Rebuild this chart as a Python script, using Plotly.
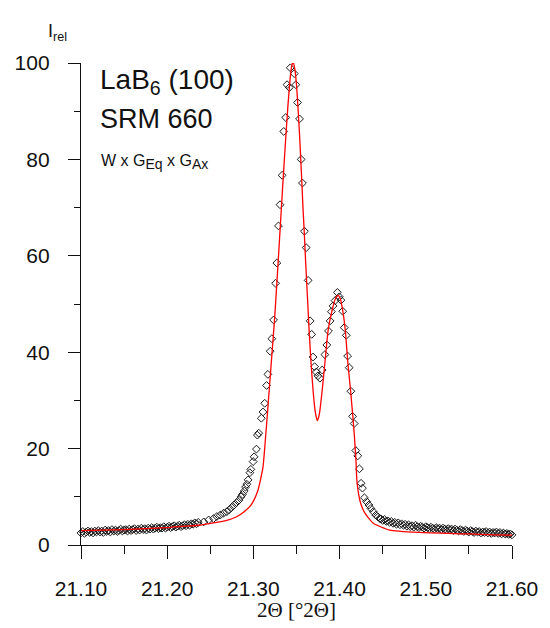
import plotly.graph_objects as go

# ---------------- measured data (open diamonds) ----------------
obs_x = [
    21.100, 21.102, 21.104, 21.106, 21.108, 21.110, 21.112, 21.114, 21.116, 21.118,
    21.120, 21.122, 21.124, 21.126, 21.128, 21.130, 21.132, 21.134, 21.136, 21.138,
    21.140, 21.142, 21.144, 21.146, 21.148, 21.150, 21.152, 21.154, 21.156, 21.158,
    21.160, 21.162, 21.164, 21.166, 21.168, 21.170, 21.172, 21.174, 21.176, 21.178,
    21.180, 21.182, 21.184, 21.186, 21.188, 21.190, 21.192, 21.194, 21.196, 21.198,
    21.200, 21.202, 21.204, 21.206, 21.208, 21.210, 21.212, 21.214, 21.216, 21.218,
    21.220, 21.222, 21.224, 21.226, 21.228, 21.230, 21.232, 21.234, 21.236,
    21.2424, 21.2481, 21.2538, 21.2576, 21.2615, 21.2653, 21.2691, 21.2718, 21.2748, 21.2776,
    21.2805, 21.2833, 21.2856, 21.2874, 21.2894, 21.2908, 21.2924, 21.2939, 21.2959, 21.2970,
    21.2997, 21.3008, 21.3035, 21.3046, 21.3062, 21.3092, 21.3111, 21.3131, 21.3153, 21.3168,
    21.3195, 21.3214, 21.3234, 21.3257, 21.3272, 21.3291, 21.3309, 21.3333, 21.3352, 21.3375,
    21.3390, 21.3417, 21.3428, 21.3455, 21.3474, 21.3493, 21.3512, 21.3535, 21.3554, 21.3569,
    21.3592, 21.3612, 21.3635, 21.3658, 21.3676, 21.3692, 21.3710, 21.3730, 21.3749, 21.3772,
    21.3798, 21.3829, 21.3852, 21.3871, 21.3890, 21.3905, 21.3924, 21.3947, 21.3974, 21.3997,
    21.4016, 21.4036, 21.4054, 21.4077, 21.4093, 21.4111, 21.4131, 21.4150, 21.4169, 21.4188,
    21.4211, 21.4230, 21.4249, 21.4265, 21.4288, 21.4314, 21.4340, 21.4363, 21.4391, 21.4420,
    21.4446, 21.4466,
    21.448, 21.450, 21.452, 21.454, 21.456, 21.458, 21.460, 21.462, 21.464, 21.466,
    21.468, 21.470, 21.472, 21.474, 21.476, 21.478, 21.480, 21.482, 21.484, 21.486,
    21.488, 21.490, 21.492, 21.494, 21.496, 21.498, 21.500, 21.502, 21.504, 21.506,
    21.508, 21.510, 21.512, 21.514, 21.516, 21.518, 21.520, 21.522, 21.524, 21.526,
    21.528, 21.530, 21.532, 21.534, 21.536, 21.538, 21.540, 21.542, 21.544, 21.546,
    21.548, 21.550, 21.552, 21.554, 21.556, 21.558, 21.560, 21.562, 21.564, 21.566,
    21.568, 21.570, 21.572, 21.574, 21.576, 21.578, 21.580, 21.582, 21.584, 21.586,
    21.588, 21.590, 21.592, 21.594, 21.596, 21.598, 21.600,
]
obs_y = [
    2.5, 2.8, 2.4, 2.7, 2.9, 2.6, 2.8, 2.5, 2.9, 2.7,
    3.0, 2.7, 2.9, 2.6, 3.1, 2.8, 3.0, 2.7, 3.2, 2.9,
    3.1, 2.8, 3.0, 3.3, 2.9, 3.1, 3.2, 2.9, 3.3, 3.0,
    3.2, 3.4, 3.0, 3.3, 3.1, 3.5, 3.2, 3.4, 3.1, 3.5,
    3.3, 3.6, 3.3, 3.5, 3.7, 3.4, 3.6, 3.5, 3.8, 3.5,
    3.7, 3.9, 3.6, 3.8, 4.0, 3.7, 3.9, 4.1, 3.8, 4.0,
    4.2, 4.0, 4.3, 4.1, 4.4, 4.3, 4.6, 4.4, 4.7,
    4.8, 5.2, 5.5, 5.9, 6.2, 6.6, 6.9, 7.3, 7.8, 8.3,
    8.8, 9.3, 10.0, 10.5, 11.2, 12.0, 12.6, 13.5, 15.0, 15.7,
    17.3, 18.3, 19.9, 22.8, 23.2, 26.3, 27.6, 29.4, 33.1, 35.4,
    40.2, 42.8, 46.7, 54.3, 58.5, 66.2, 70.6, 76.7, 85.8, 88.7,
    95.5, 94.9, 99.0, 100.4, 97.8, 95.5, 91.8, 88.4, 80.0, 75.1,
    65.1, 61.7, 54.9, 46.5, 43.7, 39.0, 37.0, 35.9, 35.1, 34.6,
    36.3, 39.5, 41.5, 44.4, 46.5, 48.4, 49.6, 50.7, 52.4, 51.5,
    50.8, 48.5, 45.1, 43.5, 39.2, 36.8, 31.9, 26.7, 25.2, 19.6,
    18.5, 15.8, 12.8, 11.8, 9.8, 9.0, 8.3, 7.6, 6.9, 6.2,
    5.8, 5.5,
    5.4, 5.1, 5.3, 4.9, 5.0, 4.7, 4.9, 4.5, 4.7, 4.3,
    4.6, 4.2, 4.4, 4.1, 4.3, 3.9, 4.2, 3.8, 4.0, 3.7,
    4.1, 3.8, 3.6, 3.9, 3.7, 3.5, 3.8, 3.6, 3.4, 3.7,
    3.5, 3.3, 3.6, 3.4, 3.5, 3.2, 3.5, 3.3, 3.1, 3.4,
    3.2, 3.3, 3.0, 3.3, 3.1, 2.9, 3.2, 3.0, 2.8, 3.1,
    2.9, 2.7, 3.0, 2.8, 2.6, 2.9, 2.7, 2.8, 2.5, 2.7,
    2.6, 2.8, 2.5, 2.7, 2.4, 2.6, 2.5, 2.7, 2.4, 2.6,
    2.3, 2.5, 2.3, 2.4, 2.2, 2.3, 2.1,
]

# ---------------- fitted profile (red line) ----------------
fit_x = [
    21.100, 21.150, 21.200, 21.220, 21.237, 21.250, 21.267, 21.280, 21.290, 21.298,
    21.305, 21.311, 21.3142, 21.3168, 21.3206, 21.3245, 21.3283, 21.3310, 21.3340, 21.3370,
    21.3400, 21.3425, 21.3445, 21.3460, 21.3480, 21.3500, 21.3520, 21.3540, 21.3560, 21.3575,
    21.3589, 21.3607, 21.3627, 21.3646, 21.3669, 21.3692, 21.3715, 21.3730, 21.3741, 21.3755,
    21.3772, 21.3798, 21.3829, 21.3867, 21.3913, 21.3951, 21.3982, 21.4008, 21.4036, 21.4066,
    21.4096, 21.4127, 21.4154, 21.4172, 21.4190, 21.4200, 21.4219, 21.4245, 21.4294, 21.4391,
    21.4581, 21.4924, 21.5497, 21.5803, 21.600,
]
fit_y = [
    3.0, 3.2, 3.6, 3.9, 4.1, 4.5, 5.0, 5.8, 7.0, 8.5,
    11.2, 16.0, 22.5, 28.5, 37.5, 46.7, 57.5, 65.5, 74.5, 83.0,
    91.0, 96.5, 99.5, 100.2, 98.8, 95.5, 90.0, 83.5, 76.0, 70.0,
    65.3, 58.4, 51.5, 44.6, 37.7, 32.1, 28.0, 26.5, 25.8, 26.4,
    28.0, 32.1, 37.7, 44.6, 48.7, 51.1, 51.8, 51.1, 48.7, 44.6,
    37.7, 32.1, 26.6, 22.5, 17.5, 13.5, 10.7, 8.6, 6.6, 4.5,
    3.1, 2.6, 2.3, 2.1, 2.05,
]

x_ticks = [21.10, 21.20, 21.30, 21.40, 21.50, 21.60]
y_ticks = [0, 20, 40, 60, 80, 100]

W, H = 550, 628
ML, MR, MT, MB = 81, 33, 63, 83
PW, PH = W - ML - MR, H - MT - MB


def px(xp):
    return (xp - ML) / PW


def py(yp):
    return (H - MB - yp) / PH


fig = go.Figure()
fig.add_trace(go.Scatter(
    x=obs_x, y=obs_y, mode="markers",
    marker=dict(symbol="diamond-open", size=6, color="#1a1a1a", line=dict(width=1, color="#1a1a1a")),
    cliponaxis=False, showlegend=False,
))
fig.add_trace(go.Scatter(
    x=fit_x, y=fit_y, mode="lines",
    line=dict(color="#ff0000", width=1.3, shape="spline", smoothing=0.5),
    cliponaxis=False, showlegend=False,
))

tickfont = dict(family="Liberation Sans, Arial", size=21, color="#111")
sans = "Liberation Sans, Arial"
fig.update_layout(
    width=W, height=H,
    margin=dict(l=ML, r=MR, t=MT, b=MB),
    plot_bgcolor="white", paper_bgcolor="white",
    xaxis=dict(
        range=[21.10, 21.60], tickvals=x_ticks, ticktext=[f"{v:.2f}" for v in x_ticks],
        ticks="outside", ticklen=13, tickwidth=1.3, tickcolor="#111",
        minor=dict(dtick=0.05, tick0=21.10, ticks="outside", ticklen=8, tickwidth=1.3, tickcolor="#111"),
        showline=True, linecolor="#111", linewidth=1.3,
        showgrid=False, zeroline=False, tickfont=tickfont, ticklabelstandoff=12,
    ),
    yaxis=dict(
        range=[0, 100], tickvals=y_ticks,
        ticks="outside", ticklen=12, tickwidth=1.3, tickcolor="#111",
        minor=dict(dtick=10, tick0=0, ticks="outside", ticklen=6, tickwidth=1.3, tickcolor="#111"),
        showline=True, linecolor="#111", linewidth=1.3,
        showgrid=False, zeroline=False, tickfont=tickfont, ticklabelstandoff=14,
    ),
    annotations=[
        dict(text="I<sub>rel</sub>", x=px(46), y=py(32), xref="paper", yref="paper",
             xanchor="left", yanchor="middle", showarrow=False,
             font=dict(family=sans, size=18, color="#111")),
        dict(text="LaB<sub>6</sub> (100)", x=px(98), y=py(82), xref="paper", yref="paper",
             xanchor="left", yanchor="middle", showarrow=False,
             font=dict(family=sans, size=28, color="#111")),
        dict(text="SRM 660", x=px(98), y=py(119), xref="paper", yref="paper",
             xanchor="left", yanchor="middle", showarrow=False,
             font=dict(family=sans, size=27, color="#111")),
        dict(text="W x G<sub><span style='font-size:14px'>Eq</span></sub> x G<sub><span style='font-size:14px'>Ax</span></sub>",
             x=px(99), y=py(162), xref="paper", yref="paper",
             xanchor="left", yanchor="middle", showarrow=False,
             font=dict(family=sans, size=16, color="#111")),
        dict(text="2Θ [°2Θ]", x=0.5, y=py(610), xref="paper", yref="paper",
             xanchor="center", yanchor="middle", showarrow=False,
             font=dict(family="Liberation Serif, Times New Roman", size=21, color="#111")),
    ],
)

fig.write_html("out.html", config={"displayModeBar": False},
               post_script="document.body.style.margin='0';")
